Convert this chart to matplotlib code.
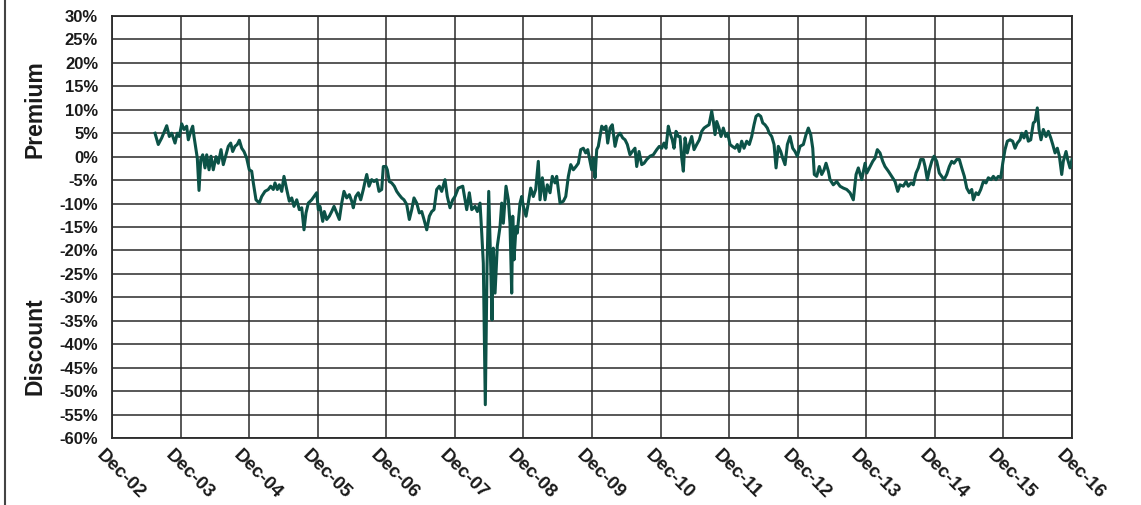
import matplotlib
matplotlib.use("Agg")
import matplotlib.pyplot as plt
import matplotlib.transforms as mtransforms
from matplotlib.lines import Line2D

plt.rcParams['font.family'] = ['Liberation Sans', 'DejaVu Sans']

# dates as decimal years (Dec-02 == 2003.0)
dates = [
    2003.627, 2003.675, 2003.725, 2003.798, 2003.836, 2003.871, 2003.919, 2003.952, 2003.981, 2004.017,
    2004.050, 2004.089, 2004.113, 2004.148, 2004.177, 2004.196, 2004.225, 2004.244, 2004.269, 2004.294,
    2004.323, 2004.356, 2004.381, 2004.415, 2004.444, 2004.477, 2004.517, 2004.550, 2004.590, 2004.623,
    2004.663, 2004.696, 2004.731, 2004.760, 2004.794, 2004.827, 2004.857, 2004.892, 2004.925, 2004.964,
    2005.002, 2005.037, 2005.061, 2005.100, 2005.148, 2005.183, 2005.231, 2005.279, 2005.314, 2005.352,
    2005.377, 2005.411, 2005.440, 2005.475, 2005.508, 2005.548, 2005.586, 2005.621, 2005.654, 2005.694,
    2005.732, 2005.767, 2005.800, 2005.829, 2005.863, 2005.912, 2005.946, 2005.985, 2006.009, 2006.033,
    2006.073, 2006.096, 2006.131, 2006.169, 2006.204, 2006.238, 2006.277, 2006.315, 2006.350, 2006.383,
    2006.423, 2006.461, 2006.496, 2006.519, 2006.554, 2006.592, 2006.627, 2006.665, 2006.690, 2006.715,
    2006.748, 2006.787, 2006.821, 2006.860, 2006.894, 2006.933, 2006.957, 2006.996, 2007.015, 2007.044,
    2007.079, 2007.117, 2007.152, 2007.186, 2007.225, 2007.258, 2007.298, 2007.336, 2007.371, 2007.404,
    2007.444, 2007.482, 2007.517, 2007.550, 2007.590, 2007.628, 2007.663, 2007.696, 2007.735, 2007.773,
    2007.808, 2007.856, 2007.890, 2007.929, 2007.969, 2008.002, 2008.050, 2008.115, 2008.173, 2008.211,
    2008.246, 2008.294, 2008.328, 2008.367, 2008.392, 2008.415, 2008.444, 2008.469, 2008.494, 2008.523,
    2008.542, 2008.561, 2008.586, 2008.619, 2008.659, 2008.683, 2008.707, 2008.746, 2008.780, 2008.804,
    2008.829, 2008.844, 2008.863, 2008.892, 2008.911, 2008.950, 2008.975, 2008.999, 2009.038, 2009.071,
    2009.106, 2009.144, 2009.179, 2009.217, 2009.242, 2009.276, 2009.315, 2009.348, 2009.388, 2009.421,
    2009.461, 2009.485, 2009.509, 2009.534, 2009.582, 2009.617, 2009.655, 2009.690, 2009.728, 2009.767,
    2009.801, 2009.836, 2009.873, 2009.908, 2009.938, 2009.971, 2009.996, 2010.019, 2010.044, 2010.069,
    2010.092, 2010.117, 2010.142, 2010.175, 2010.204, 2010.229, 2010.263, 2010.296, 2010.336, 2010.369,
    2010.409, 2010.448, 2010.482, 2010.515, 2010.554, 2010.588, 2010.627, 2010.652, 2010.686, 2010.725,
    2010.759, 2010.798, 2010.846, 2010.894, 2010.944, 2010.982, 2011.017, 2011.050, 2011.079, 2011.113,
    2011.138, 2011.171, 2011.196, 2011.225, 2011.259, 2011.284, 2011.309, 2011.332, 2011.357, 2011.390,
    2011.419, 2011.454, 2011.488, 2011.527, 2011.565, 2011.600, 2011.634, 2011.673, 2011.707, 2011.746,
    2011.770, 2011.794, 2011.819, 2011.852, 2011.882, 2011.915, 2011.950, 2011.979, 2012.013, 2012.046,
    2012.086, 2012.119, 2012.148, 2012.183, 2012.217, 2012.256, 2012.294, 2012.329, 2012.363, 2012.392,
    2012.426, 2012.461, 2012.490, 2012.523, 2012.557, 2012.586, 2012.621, 2012.655, 2012.684, 2012.717,
    2012.752, 2012.781, 2012.815, 2012.849, 2012.888, 2012.927, 2012.961, 2012.994, 2013.034, 2013.082,
    2013.121, 2013.155, 2013.190, 2013.219, 2013.242, 2013.277, 2013.315, 2013.350, 2013.384, 2013.413,
    2013.447, 2013.471, 2013.519, 2013.569, 2013.617, 2013.665, 2013.715, 2013.763, 2013.811, 2013.851,
    2013.884, 2013.934, 2013.982, 2014.007, 2014.045, 2014.094, 2014.128, 2014.161, 2014.200, 2014.240,
    2014.273, 2014.322, 2014.371, 2014.419, 2014.459, 2014.492, 2014.540, 2014.580, 2014.613, 2014.653,
    2014.686, 2014.725, 2014.759, 2014.794, 2014.832, 2014.857, 2014.890, 2014.920, 2014.955, 2014.988,
    2015.027, 2015.065, 2015.100, 2015.134, 2015.173, 2015.211, 2015.246, 2015.279, 2015.319, 2015.357,
    2015.392, 2015.430, 2015.465, 2015.503, 2015.538, 2015.561, 2015.600, 2015.634, 2015.669, 2015.707,
    2015.746, 2015.780, 2015.819, 2015.853, 2015.892, 2015.925, 2015.961, 2015.990, 2016.023, 2016.057,
    2016.096, 2016.135, 2016.169, 2016.202, 2016.242, 2016.267, 2016.300, 2016.330, 2016.363, 2016.398,
    2016.436, 2016.461, 2016.494, 2016.519, 2016.548, 2016.582, 2016.621, 2016.655, 2016.690, 2016.719,
    2016.753, 2016.786, 2016.816, 2016.850, 2016.873, 2016.913, 2016.937, 2016.971, 2017.000,
]

premium_discount = [
    5.0, 2.6, 4.0, 6.6, 4.3, 5.0, 2.9, 5.0, 4.3, 7.0,
    5.8, 6.5, 3.6, 5.4, 6.5, 4.3, 1.5, -0.3, -7.2, -0.6,
    0.4, -2.4, 0.4, -2.8, 0.1, -2.8, 0.0, -1.4, 1.5, -1.7,
    0.4, 2.2, 2.9, 1.1, 2.2, 2.6, 3.5, 1.8, 1.1, -0.3,
    -2.8, -3.1, -5.6, -9.2, -9.9, -8.5, -7.4, -7.0, -6.3, -7.0,
    -5.6, -7.0, -6.0, -7.4, -4.2, -7.0, -9.5, -8.8, -10.6, -9.2,
    -11.3, -10.9, -15.6, -12.0, -9.9, -9.2, -8.5, -7.7, -11.3, -10.6,
    -13.8, -11.7, -13.4, -12.7, -11.7, -10.6, -12.0, -13.4, -9.9, -7.4,
    -8.8, -8.1, -9.5, -10.9, -8.5, -7.7, -9.2, -7.0, -5.3, -3.8,
    -6.3, -4.9, -5.3, -4.9, -7.4, -7.0, -2.1, -2.1, -2.8, -5.3,
    -5.6, -6.3, -7.4, -8.1, -8.8, -9.2, -10.2, -13.4, -11.3, -8.8,
    -9.9, -12.0, -11.7, -13.4, -15.6, -12.7, -11.7, -11.3, -7.0, -6.3,
    -7.4, -4.9, -8.5, -10.9, -9.2, -8.5, -6.7, -6.3, -11.3, -7.7,
    -11.3, -10.6, -11.7, -9.9, -16.3, -22.7, -52.9, -23.7, -7.4, -23.4,
    -34.8, -19.5, -29.1, -19.1, -14.9, -9.9, -14.2, -6.3, -9.2, -14.2,
    -29.1, -12.7, -22.0, -14.9, -16.3, -9.9, -8.5, -10.6, -12.7, -9.9,
    -6.7, -8.5, -7.0, -1.0, -9.2, -4.5, -9.2, -6.0, -7.7, -4.2,
    -5.6, -4.2, -7.0, -9.9, -9.5, -8.5, -4.2, -1.7, -2.8, -2.1,
    -1.4, 1.5, 1.8, 0.8, 1.5, -1.0, -2.8, -0.3, -4.5, 1.5,
    2.2, 4.3, 6.5, 5.8, 6.5, 2.9, 6.1, 6.8, 2.2, 4.3,
    5.0, 4.0, 3.6, 2.6, 0.4, 1.1, 1.8, -2.1, 1.1, -1.7,
    -1.4, -0.6, 0.1, 0.4, 1.5, 2.2, 1.8, 2.9, 1.8, 6.5,
    5.0, 3.6, 1.8, 5.4, 4.3, 4.3, -0.3, -3.1, 4.0, 0.8,
    2.6, 4.3, 1.5, 2.6, 3.6, 5.4, 6.1, 6.5, 6.8, 9.7,
    7.5, 4.7, 7.5, 6.1, 4.3, 6.1, 4.3, 5.0, 2.6, 2.2,
    1.8, 2.6, 1.1, 3.3, 1.8, 3.3, 2.6, 4.3, 6.8, 8.6,
    9.0, 8.6, 7.2, 6.8, 6.1, 5.0, 4.3, 2.6, -2.4, 2.2,
    1.1, -0.3, -1.7, 2.6, 4.3, 1.8, 1.1, 0.1, 2.2, 2.6,
    4.7, 6.1, 4.7, 1.8, -3.8, -4.2, -2.1, -3.8, -2.8, -1.4,
    -3.1, -4.9, -6.0, -5.3, -6.3, -6.7, -7.0, -7.7, -9.2, -3.8,
    -2.4, -4.9, -1.4, -3.5, -2.4, -1.0, -0.3, 1.5, 0.8, -1.0,
    -2.1, -3.1, -4.2, -5.3, -7.4, -6.0, -6.3, -5.3, -6.3, -5.6,
    -6.0, -3.5, -2.4, -0.6, -0.6, -2.1, -4.9, -2.8, -1.0, 0.1,
    -1.0, -3.5, -4.2, -4.9, -3.8, -2.1, -1.0, -1.4, -0.6, -0.6,
    -2.4, -4.2, -6.7, -7.7, -7.0, -9.2, -7.7, -8.1, -7.0, -5.3,
    -5.6, -4.5, -4.9, -4.2, -4.9, -4.2, -4.5, -1.4, 1.5, 3.3,
    3.6, 3.3, 1.8, 2.9, 3.6, 5.0, 4.0, 5.4, 3.3, 3.6,
    7.2, 7.5, 10.4, 5.8, 3.6, 5.8, 4.3, 5.4, 4.0, 2.6,
    0.8, 1.8, 0.1, -3.8, -1.0, 1.1, -0.6, -2.4, -0.6,
]

tick_years = list(range(2003, 2018))
tick_labels = ["Dec-02", "Dec-03", "Dec-04", "Dec-05", "Dec-06", "Dec-07", "Dec-08",
               "Dec-09", "Dec-10", "Dec-11", "Dec-12", "Dec-13", "Dec-14", "Dec-15", "Dec-16"]
y_ticks = list(range(-60, 31, 5))
y_labels = [f"{v}%" for v in y_ticks]

W, H = 1141, 505
fig = plt.figure(figsize=(W / 100, H / 100), dpi=100)
ax = fig.add_axes([112 / W, 1 - 438 / H, (1072 - 112) / W, (438 - 16) / H])

ax.plot(dates, premium_discount, color='#0c5247', lw=2.2, solid_joinstyle='round', zorder=3)

ax.set_xlim(2003, 2017)
ax.set_ylim(-60, 30)
ax.set_xticks(tick_years)
ax.set_xticklabels(tick_labels)
ax.set_yticks(y_ticks)
ax.set_yticklabels(y_labels)
ax.grid(True, color='#2a2a2a', lw=1.1, zorder=1)
for s in ax.spines.values():
    s.set_color('#2a2a2a')
    s.set_linewidth(1.3)
ax.tick_params(length=0)
ax.tick_params(axis='y', pad=10, labelsize=12, labelcolor='#1a1a1a')
ax.tick_params(axis='x', pad=6, labelsize=13.5, labelcolor='#1a1a1a')
for lab in ax.get_yticklabels():
    lab.set_fontweight('bold')
offset = mtransforms.ScaledTranslation(-7 / 100, 0 / 100, fig.dpi_scale_trans)
for lab in ax.get_xticklabels():
    lab.set_fontweight('bold')
    lab.set_rotation(-45)
    lab.set_rotation_mode('anchor')
    lab.set_ha('left')
    lab.set_va('top')
    lab.set_transform(lab.get_transform() + offset)

fig.text(35 / W, 1 - 109 / H, "Premium", rotation=90, ha='center', va='center',
         fontsize=16.5, fontweight='bold', color='#1a1a1a')
fig.text(35 / W, 1 - 346 / H, "Discount", rotation=90, ha='center', va='center',
         fontsize=16.5, fontweight='bold', color='#1a1a1a')

fig.add_artist(Line2D([5 / W, 5 / W], [0, 1], transform=fig.transFigure,
                      color='#444444', lw=1.5))

fig.savefig("out.png", dpi=100)
